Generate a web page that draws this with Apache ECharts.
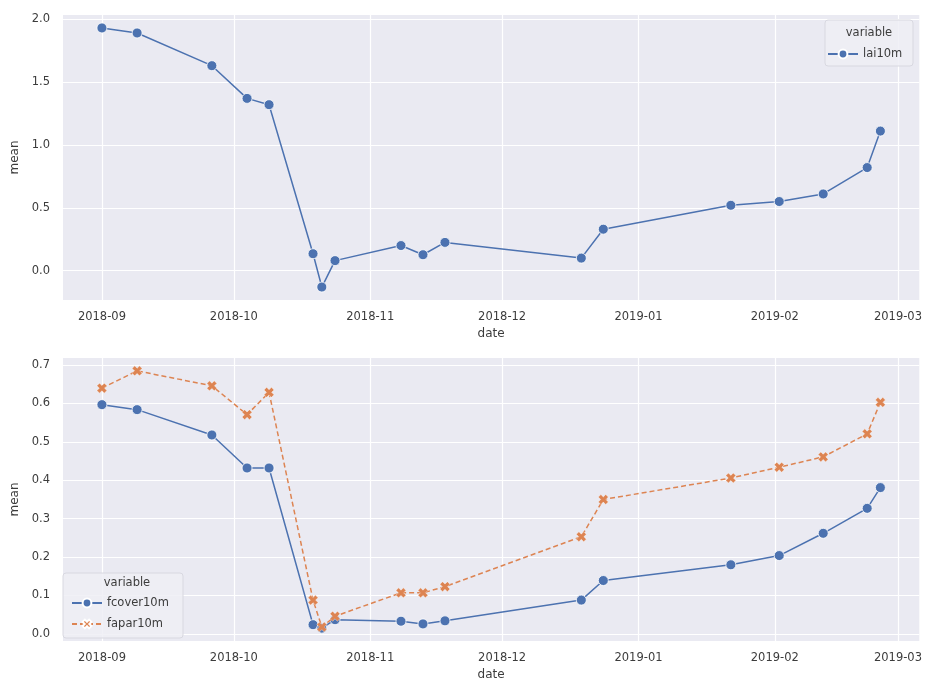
<!DOCTYPE html>
<html>
<head>
<meta charset="utf-8">
<script src="https://cdn.jsdelivr.net/npm/echarts@6/dist/echarts.min.js"></script>
<style>
  html, body { margin: 0; padding: 0; background: #ffffff; }
  #chart { width: 925px; height: 682px; }
</style>
</head>
<body>
<div id="chart"></div>
<script>
// Acquisition dates and per-date mean values of the 10 m vegetation products
const dates = ['2018-09-01', '2018-09-09', '2018-09-26', '2018-10-04', '2018-10-09',
  '2018-10-19', '2018-10-21', '2018-10-24', '2018-11-08', '2018-11-13', '2018-11-18',
  '2018-12-19', '2018-12-24', '2019-01-22', '2019-02-02', '2019-02-12', '2019-02-22',
  '2019-02-25'];
const lai10m = [1.93, 1.89, 1.63, 1.37, 1.32, 0.135, -0.13, 0.08, 0.20, 0.127, 0.225,
  0.10, 0.33, 0.52, 0.55, 0.61, 0.82, 1.11];
const fcover10m = [0.597, 0.584, 0.518, 0.432, 0.432, 0.024, 0.015, 0.037, 0.033, 0.026,
  0.034, 0.088, 0.139, 0.18, 0.204, 0.262, 0.327, 0.381];
const fapar10m = [0.64, 0.685, 0.646, 0.571, 0.629, 0.088, 0.018, 0.046, 0.107, 0.107,
  0.123, 0.253, 0.35, 0.406, 0.434, 0.461, 0.521, 0.603];
const legendTitle = 'variable';
const xName = 'date';
const yName = 'mean';

const BLUE = '#4C72B0';
const ORANGE = '#DD8452';
const FONT = 'DejaVu Sans';
const TEXT = '#3c3c3c';
// filled "X" marker
const X_PATH = 'path://M0,2.6 L2.6,0 L5,2.4 L7.4,0 L10,2.6 L7.6,5 L10,7.4 L7.4,10 L5,7.6 L2.6,10 L0,7.4 L2.4,5 Z';

function toTime(s) {
  const p = s.split('-').map(Number);
  return new Date(p[0], p[1] - 1, p[2]).getTime();
}
function pairs(vals) { return dates.map((d, i) => [toTime(d), vals[i]]); }
function padded(lo, hi) { const m = (hi - lo) * 0.05; return [lo - m, hi + m]; }

const tRange = padded(toTime(dates[0]), toTime(dates[dates.length - 1]));
const yTop = padded(Math.min(...lai10m), Math.max(...lai10m));
const both = fcover10m.concat(fapar10m);
const yBot = padded(Math.min(...both), Math.max(...both));

function monthLabel(v) {
  const d = new Date(v);
  if (d.getDate() !== 1 || d.getHours() !== 0 || d.getMinutes() !== 0) return '';
  return d.getFullYear() + '-' + String(d.getMonth() + 1).padStart(2, '0');
}
function stepLabel(step) {
  return function (v) {
    const r = Math.round(v / step) * step;
    if (Math.abs(v - r) > 1e-6) return '';
    return r.toFixed(1);
  };
}

function xAxis(gridIndex) {
  return {
    type: 'time', gridIndex: gridIndex, min: tRange[0], max: tRange[1],
    splitNumber: 6,
    name: xName, nameLocation: 'middle', nameGap: 28,
    nameTextStyle: { fontFamily: FONT, fontSize: 12, color: TEXT },
    axisLine: { show: false }, axisTick: { show: false },
    axisLabel: { formatter: monthLabel, fontFamily: FONT, fontSize: 11.5, color: TEXT, margin: 11,
      hideOverlap: false },
    splitLine: { show: true, showMinLine: false, showMaxLine: false,
      lineStyle: { color: '#ffffff', width: 1.2 } }
  };
}
function yAxis(gridIndex, range, step, split) {
  return {
    type: 'value', gridIndex: gridIndex, min: range[0], max: range[1], splitNumber: split,
    name: yName, nameLocation: 'middle', nameGap: 42,
    nameTextStyle: { fontFamily: FONT, fontSize: 12, color: TEXT },
    axisLine: { show: false }, axisTick: { show: false },
    axisLabel: { formatter: stepLabel(step), fontFamily: FONT, fontSize: 11.5, color: TEXT, margin: 13 },
    splitLine: { show: true, showMinLine: false, showMaxLine: false,
      lineStyle: { color: '#ffffff', width: 1.2 } }
  };
}

function lineSeries(name, vals, idx, color, symbol, dashed) {
  return {
    name: name, type: 'line', xAxisIndex: idx, yAxisIndex: idx,
    data: pairs(vals),
    symbol: symbol, symbolSize: 10, showAllSymbol: true,
    lineStyle: { color: color, width: 1.5, type: dashed ? [5, 3] : 'solid' },
    itemStyle: { color: color, borderColor: '#ffffff', borderWidth: dashed ? 0.4 : 0.8 },
    emphasis: { disabled: true },
    z: dashed ? 3 : 2
  };
}

const chart = echarts.init(document.getElementById('chart'), null, { renderer: 'canvas' });
chart.setOption({
  animation: false,
  backgroundColor: '#ffffff',
  grid: [
    { left: 63, right: 5, top: 15, height: 285, show: true, backgroundColor: '#EAEAF2', borderWidth: 0 },
    { left: 63, right: 5, top: 358, height: 284, show: true, backgroundColor: '#EAEAF2', borderWidth: 0 }
  ],
  xAxis: [xAxis(0), xAxis(1)],
  yAxis: [yAxis(0, yTop, 0.5, 5), yAxis(1, yBot, 0.1, 7)],
  graphic: [
    { type: 'rect', shape: { x: 825, y: 20, width: 88, height: 46, r: 3 },
      style: { fill: 'rgba(238,238,244,0.85)', stroke: '#d8d8e0', lineWidth: 1 }, z: 10 },
    { type: 'text', x: 869, y: 33, style: { text: legendTitle, font: '11.5px "DejaVu Sans"',
      fill: TEXT, align: 'center', verticalAlign: 'middle' }, z: 11 },
    { type: 'rect', shape: { x: 63, y: 573, width: 120, height: 65, r: 3 },
      style: { fill: 'rgba(238,238,244,0.85)', stroke: '#d8d8e0', lineWidth: 1 }, z: 10 },
    { type: 'text', x: 127, y: 583, style: { text: legendTitle, font: '11.5px "DejaVu Sans"',
      fill: TEXT, align: 'center', verticalAlign: 'middle' }, z: 11 }
  ],
  legend: [
    { data: ['lai10m'], left: 827, top: 48, orient: 'vertical', itemWidth: 30, itemHeight: 11,
      itemGap: 9, padding: 0, z: 12,
      textStyle: { fontFamily: FONT, fontSize: 11.5, color: TEXT } },
    { data: ['fcover10m', 'fapar10m'], left: 71, top: 597, orient: 'vertical', itemWidth: 30,
      itemHeight: 11, itemGap: 9, padding: 0, z: 12,
      textStyle: { fontFamily: FONT, fontSize: 11.5, color: TEXT } }
  ],
  series: [
    lineSeries('lai10m', lai10m, 0, BLUE, 'circle', false),
    lineSeries('fcover10m', fcover10m, 1, BLUE, 'circle', false),
    lineSeries('fapar10m', fapar10m, 1, ORANGE, X_PATH, true)
  ]
});
</script>
</body>
</html>
